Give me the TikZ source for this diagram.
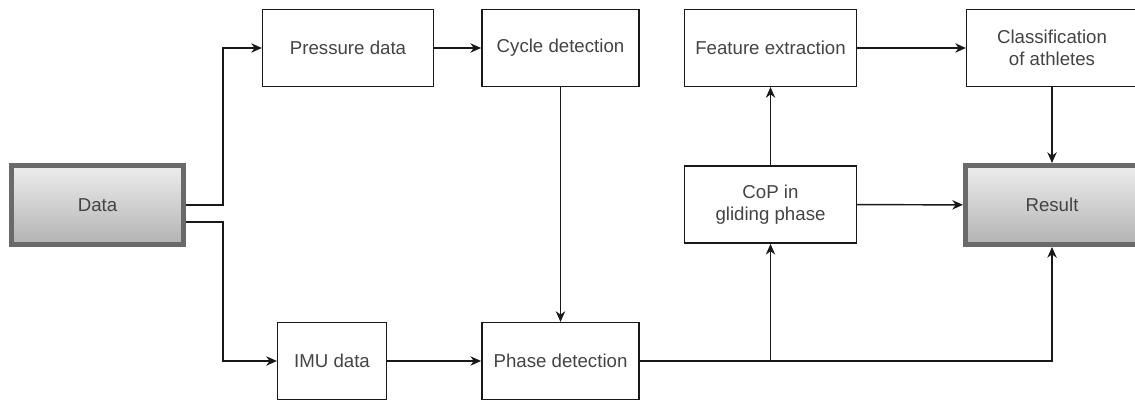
\documentclass[tikz,border=0pt]{standalone}
\usepackage{fontspec}
\setmainfont{Liberation Sans}
\usetikzlibrary{arrows.meta}
\definecolor{boxtext}{HTML}{444444}
\definecolor{rim}{HTML}{6A6A6A}
\begin{document}
\begin{tikzpicture}[x=0.75pt,y=0.75pt,
    font=\fontsize{14}{16.5}\selectfont,
    box/.style={draw=black!90,line width=1.1pt,fill=white,text=boxtext,align=center,minimum height=57.5pt},
    endbox/.style={draw=rim,line width=3.5pt,top color=black!7,bottom color=black!30,text=boxtext,align=center,minimum width=129pt,minimum height=59.5pt},
    line/.style={draw=black!90,line width=1.1pt},
    arrow/.style={line,-{Stealth[length=8pt,width=7pt,inset=2.5pt]}}]
    \useasboundingbox (0,0) rectangle (1135,403);
    % input and output
    \node[endbox] (data) at (97.5,198) {Data};
    \node[endbox,minimum width=130pt] (result) at (1052,198) {Result};
    % top row
    \node[box,minimum width=128pt] (pressure) at (348,355) {Pressure data};
    \node[box,minimum width=118pt] (cycle) at (560.5,355) {Cycle detection};
    \node[box,minimum width=129pt] (feature) at (770.5,355) {Feature extraction};
    \node[box,minimum width=128pt] (classify) at (1052,355) {Classification\\of athletes};
    % middle
    \node[box,minimum width=129pt,minimum height=58pt] (cop) at (770.5,198.5) {CoP in\\gliding phase};
    % bottom row
    \node[box,minimum width=81.5pt] (imu) at (332,42) {IMU data};
    \node[box,minimum width=118pt] (phase) at (560.5,42) {Phase detection};
    \coordinate (fork) at (223,0);
    \coordinate (lowout) at ([yshift=-12.75pt]data.east);
    % split of the data
    \draw[arrow] (data.east) -- (data.east -| fork) |- (pressure.west);
    \draw[arrow] (lowout) -- (lowout -| fork) |- (imu.west);
    \draw[arrow] (pressure) -- (cycle);
    \draw[arrow] (imu) -- (phase);
    \draw[arrow] (cycle) -- (phase);
    % phase to the outputs
    \draw[arrow] (phase.east) -| (result.south);
    \draw[arrow] (phase.east -| cop.south) -- (cop.south);
    \draw[arrow] (cop) -- (feature);
    \draw[arrow] (feature) -- (classify);
    \draw[arrow] (classify) -- (result);
    \draw[arrow] (cop) -- (result);
\end{tikzpicture}
\end{document}
